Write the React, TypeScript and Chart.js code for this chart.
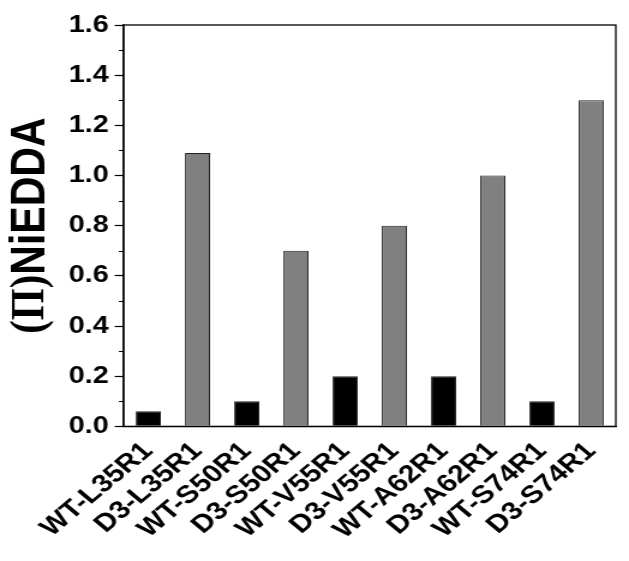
import React, { useEffect, useRef } from "react";
import { Chart, registerables } from "chart.js";

Chart.register(...registerables);

const categories = [
  "WT-L35R1", "D3-L35R1", "WT-S50R1", "D3-S50R1", "WT-V55R1",
  "D3-V55R1", "WT-A62R1", "D3-A62R1", "WT-S74R1", "D3-S74R1",
];
const values = [0.06, 1.09, 0.1, 0.7, 0.2, 0.8, 0.2, 1.0, 0.1, 1.3];
const barColors = ["#000000", "#808080", "#000000", "#808080", "#000000", "#808080", "#000000", "#808080", "#000000", "#808080"];
const yTicks = [0, 0.2, 0.4, 0.6, 0.8, 1.0, 1.2, 1.4, 1.6];
const yMinorTicks = [0.1, 0.3, 0.5, 0.7, 0.9, 1.1, 1.3, 1.5];
const yTitlePrefix = "(\u03A0)";
const yTitleMain = "NiEDDA";

const FONT = "'Liberation Sans', Arial, sans-serif";
const SERIF = "'Liberation Serif', 'Times New Roman', serif";
const TITLE_SIZE = 41;
const CANVAS_W = 524;
const CANVAS_H = 561;
const STRETCH = 629 / CANVAS_W;

const framePlugin = {
  id: "frame",
  afterDraw(chart: any) {
    const { ctx, chartArea } = chart;
    const y = chart.scales.y;
    ctx.save();
    ctx.strokeStyle = "#000";
    ctx.lineWidth = 1.3;
    ctx.strokeRect(chartArea.left, chartArea.top, chartArea.right - chartArea.left, chartArea.bottom - chartArea.top);
    ctx.lineWidth = 1.2;
    ctx.beginPath();
    for (const v of yMinorTicks) {
      const py = Math.round(y.getPixelForValue(v)) + 0.5;
      ctx.moveTo(chartArea.left - 4, py);
      ctx.lineTo(chartArea.left, py);
    }
    ctx.stroke();

    // y title with mixed fonts
    const cx = y.left + 1 + (TITLE_SIZE * 1.2) / 2;
    const cy = (chartArea.top + chartArea.bottom) / 2;
    ctx.translate(cx, cy);
    ctx.rotate(-Math.PI / 2);
    ctx.fillStyle = "#000";
    ctx.textBaseline = "middle";
    ctx.textAlign = "left";
    const fSerif = `bold ${TITLE_SIZE}px ${SERIF}`;
    const fSans = `bold ${TITLE_SIZE}px ${FONT}`;
    ctx.font = fSerif;
    const w1 = ctx.measureText(yTitlePrefix).width;
    ctx.font = fSans;
    const w2 = ctx.measureText(yTitleMain).width;
    const x0 = -(w1 + w2) / 2;
    ctx.font = fSerif;
    ctx.fillText(yTitlePrefix, x0, 0);
    ctx.font = fSans;
    ctx.fillText(yTitleMain, x0 + w1, 0);
    ctx.restore();
  },
};

export default function App() {
  const ref = useRef<HTMLCanvasElement>(null);
  useEffect(() => {
    if (!ref.current) return;
    const chart = new Chart(ref.current, {
      type: "bar",
      data: {
        labels: categories,
        datasets: [
          {
            data: values,
            backgroundColor: barColors,
            borderColor: "#222",
            borderWidth: 1,
            barPercentage: 0.51,
            categoryPercentage: 1.0,
          },
        ],
      },
      options: {
        responsive: false,
        animation: false,
        layout: { padding: { top: 25, right: 11, left: 0, bottom: 14 } },
        plugins: { legend: { display: false }, tooltip: { enabled: false } },
        scales: {
          x: {
            grid: { display: false },
            border: { display: true, color: "#000", width: 1.3 },
            ticks: {
              color: "#000",
              font: { family: FONT, size: 25, weight: "bold" },
              minRotation: 45,
              maxRotation: 45,
              padding: 2,
              autoSkip: false,
            },
          },
          y: {
            min: 0,
            max: 1.6,
            afterBuildTicks(scale: any) {
              scale.ticks = yTicks.map((v) => ({ value: v }));
            },
            grid: {
              display: true,
              drawOnChartArea: false,
              tickLength: 7.5,
              tickColor: "#000",
              tickWidth: 1.2,
            },
            border: { display: true, color: "#000", width: 1.3 },
            ticks: {
              color: "#000",
              font: { family: FONT, size: 24, weight: "bold" },
              padding: 5,
              callback: (v: any) => Number(v).toFixed(1),
            },
            title: {
              display: true,
              text: yTitlePrefix + yTitleMain,
              color: "rgba(0,0,0,0)",
              font: { family: FONT, size: TITLE_SIZE, weight: "bold" },
              padding: { top: 1, bottom: 2 },
            },
          },
        },
      },
      plugins: [framePlugin],
    });
    return () => chart.destroy();
  }, []);
  return (
    <div style={{ position: "fixed", left: 0, top: 0, width: 629, height: 561, background: "#fff", overflow: "hidden" }}>
      <div style={{ width: CANVAS_W, height: CANVAS_H, transform: `scaleX(${STRETCH})`, transformOrigin: "0 0" }}>
        <canvas ref={ref} width={CANVAS_W} height={CANVAS_H} style={{ display: "block" }} />
      </div>
    </div>
  );
}
